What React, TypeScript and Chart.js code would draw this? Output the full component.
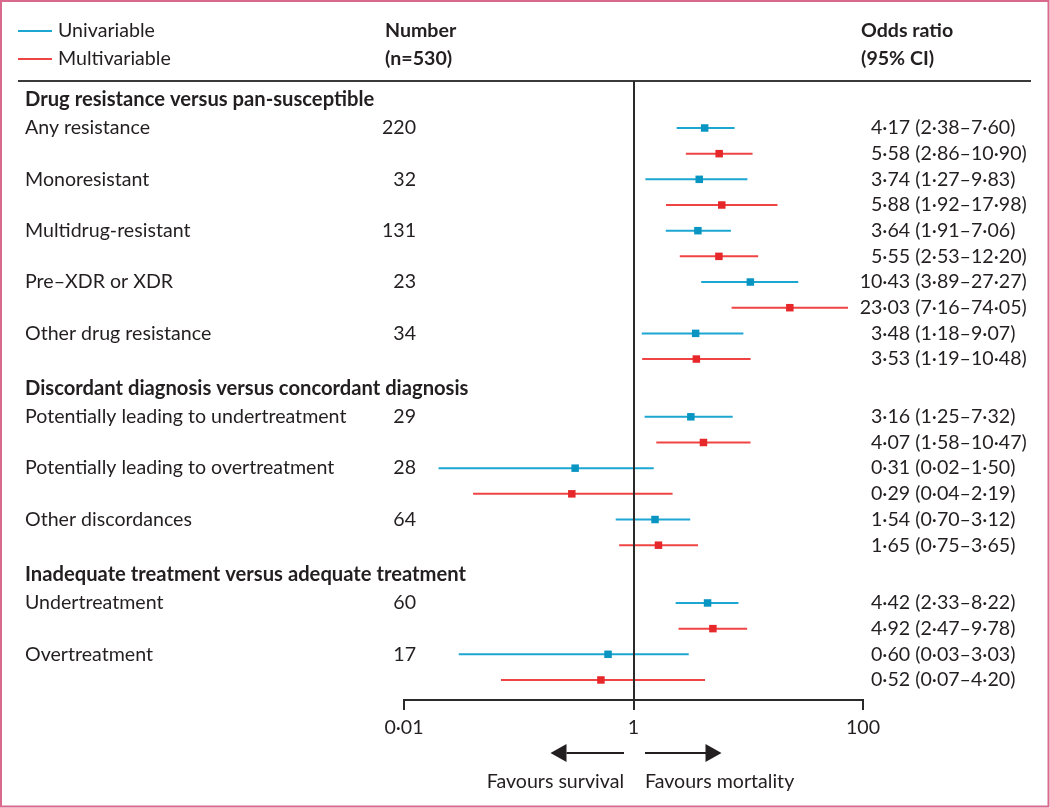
import { useEffect, useRef } from 'react';
import { Chart, registerables } from 'chart.js';

Chart.register(...registerables);

const groupTitles = [
  'Drug resistance versus pan-susceptible',
  'Discordant diagnosis versus concordant diagnosis',
  'Inadequate treatment versus adequate treatment',
];
const rowLabels = [
  'Any resistance',
  'Monoresistant',
  'Multidrug-resistant',
  'Pre–XDR or XDR',
  'Other drug resistance',
  'Potentially leading to undertreatment',
  'Potentially leading to overtreatment',
  'Other discordances',
  'Undertreatment',
  'Overtreatment',
];
const rowGroup = [0, 0, 0, 0, 0, 1, 1, 1, 2, 2];
const numbers = [220, 32, 131, 23, 34, 29, 28, 64, 60, 17];
const uniOR = [4.17, 3.74, 3.64, 10.43, 3.48, 3.16, 0.31, 1.54, 4.42, 0.6];
const uniLo = [2.38, 1.27, 1.91, 3.89, 1.18, 1.25, 0.02, 0.7, 2.33, 0.03];
const uniHi = [7.6, 9.83, 7.06, 27.27, 9.07, 7.32, 1.5, 3.12, 8.22, 3.03];
const multiOR = [5.58, 5.88, 5.55, 23.03, 3.53, 4.07, 0.29, 1.65, 4.92, 0.52];
const multiLo = [2.86, 1.92, 2.53, 7.16, 1.19, 1.58, 0.04, 0.75, 2.47, 0.07];
const multiHi = [10.9, 17.98, 12.2, 74.05, 10.48, 10.47, 2.19, 3.65, 9.78, 4.2];
const xTickValues = [0.01, 1, 100];
const xTickLabels = ['0·01', '1', '100'];
const seriesNames = ['Univariable', 'Multivariable'];

const FONT = 'Lato, "Open Sans", sans-serif';
const TEXT = '#231f20';
const BLUE_LINE = '#1ca6d2';
const BLUE_MARK = '#0995c2';
const RED_LINE = '#f04444';
const RED_MARK = '#e6282a';
const FS = 19.6;
const FSB = 20.2;

const yOf = (i: number, s: number) => 2 * i + s + rowGroup[i] * 1.25;
const fmt = (v: number) => v.toFixed(2).replace('.', '·');

export default function App() {
  const ref = useRef<HTMLCanvasElement>(null);

  useEffect(() => {
    const canvas = ref.current;
    if (!canvas) return;

    const datasets: any[] = [];
    datasets.push({
      type: 'scatter',
      data: uniOR.map((v, i) => ({ x: v, y: yOf(i, 0) })),
      pointStyle: 'rect',
      pointRadius: 5.3,
      backgroundColor: BLUE_MARK,
      borderColor: BLUE_MARK,
      borderWidth: 0,
    });
    datasets.push({
      type: 'scatter',
      data: multiOR.map((v, i) => ({ x: v, y: yOf(i, 1) })),
      pointStyle: 'rect',
      pointRadius: 5.3,
      backgroundColor: RED_MARK,
      borderColor: RED_MARK,
      borderWidth: 0,
    });
    uniOR.forEach((_, i) => {
      datasets.push({
        type: 'scatter',
        showLine: true,
        data: [
          { x: uniLo[i], y: yOf(i, 0) },
          { x: uniHi[i], y: yOf(i, 0) },
        ],
        borderColor: BLUE_LINE,
        borderWidth: 2,
        pointRadius: 0,
      });
      datasets.push({
        type: 'scatter',
        showLine: true,
        data: [
          { x: multiLo[i], y: yOf(i, 1) },
          { x: multiHi[i], y: yOf(i, 1) },
        ],
        borderColor: RED_LINE,
        borderWidth: 2,
        pointRadius: 0,
      });
    });

    const decor = {
      id: 'decor',
      beforeDraw(chart: any) {
        const ctx = chart.ctx;
        ctx.save();
        ctx.fillStyle = '#fff';
        ctx.fillRect(0, 0, chart.width, chart.height);
        ctx.restore();
      },
      afterDraw(chart: any) {
        const ctx = chart.ctx as CanvasRenderingContext2D;
        const xs = chart.scales.x;
        const ys = chart.scales.y;
        const top = chart.chartArea.top;
        const bottom = chart.chartArea.bottom;
        ctx.save();

        // frame
        ctx.strokeStyle = '#d96a8e';
        ctx.lineWidth = 2;
        ctx.strokeRect(1, 1, 1047.5, 805.5);

        // legend
        const legendY = [31, 59];
        const legendCol = [BLUE_LINE, RED_LINE];
        legendY.forEach((y, k) => {
          ctx.strokeStyle = legendCol[k];
          ctx.lineWidth = 2;
          ctx.beginPath();
          ctx.moveTo(18, y);
          ctx.lineTo(52, y);
          ctx.stroke();
          ctx.fillStyle = TEXT;
          ctx.font = `${FS}px ${FONT}`;
          ctx.textAlign = 'left';
          ctx.textBaseline = 'middle';
          ctx.fillText(seriesNames[k], 58, y);
        });

        // column headers
        ctx.font = `bold ${FS}px ${FONT}`;
        ctx.fillStyle = TEXT;
        ctx.textAlign = 'left';
        ctx.textBaseline = 'middle';
        ctx.fillText('Number', 385, 31);
        ctx.fillText('(n=530)', 385, 59);
        ctx.fillText('Odds ratio', 861, 31);
        ctx.fillText('(95% CI)', 861, 59);

        // top rule
        ctx.strokeStyle = '#3a3a3a';
        ctx.lineWidth = 2;
        ctx.beginPath();
        ctx.moveTo(18, top);
        ctx.lineTo(1031, top);
        ctx.stroke();

        // line of no effect
        const x1 = Math.round(xs.getPixelForValue(1)) + 0.5;
        ctx.strokeStyle = '#2a2a2a';
        ctx.lineWidth = 2;
        ctx.beginPath();
        ctx.moveTo(x1 - 0.5, top);
        ctx.lineTo(x1 - 0.5, bottom);
        ctx.stroke();

        // group titles
        ctx.font = `bold ${FSB}px ${FONT}`;
        ctx.fillStyle = TEXT;
        groupTitles.forEach((t, g) => {
          const first = rowGroup.indexOf(g);
          ctx.fillText(t, 25, ys.getPixelForValue(yOf(first, 0) - 1.1));
        });

        // row labels and numbers
        ctx.font = `${FS}px ${FONT}`;
        rowLabels.forEach((t, i) => {
          const y = ys.getPixelForValue(yOf(i, 0));
          ctx.textAlign = 'left';
          ctx.fillText(t, 25, y);
          ctx.textAlign = 'right';
          ctx.fillText(String(numbers[i]), 416, y);
        });

        // odds ratio text
        ctx.textAlign = 'left';
        const dw = ctx.measureText('0').width;
        const drawOR = (or: number, lo: number, hi: number, yv: number) => {
          const s = `${fmt(or)} (${fmt(lo)}–${fmt(hi)})`;
          const intDigits = Math.floor(or).toString().length;
          ctx.fillText(s, 871 - (intDigits - 1) * dw, ys.getPixelForValue(yv));
        };
        uniOR.forEach((v, i) => {
          drawOR(v, uniLo[i], uniHi[i], yOf(i, 0));
          drawOR(multiOR[i], multiLo[i], multiHi[i], yOf(i, 1));
        });

        // arrows
        const ay = 753;
        ctx.strokeStyle = '#231f20';
        ctx.fillStyle = '#231f20';
        ctx.lineWidth = 2;
        ctx.beginPath();
        ctx.moveTo(x1 - 10.5, ay);
        ctx.lineTo(x1 - 68, ay);
        ctx.moveTo(x1 + 10.5, ay);
        ctx.lineTo(x1 + 72, ay);
        ctx.stroke();
        ctx.beginPath();
        ctx.moveTo(x1 - 84, ay);
        ctx.lineTo(x1 - 68, ay - 9);
        ctx.lineTo(x1 - 68, ay + 9);
        ctx.closePath();
        ctx.fill();
        ctx.beginPath();
        ctx.moveTo(x1 + 87, ay);
        ctx.lineTo(x1 + 71, ay - 9);
        ctx.lineTo(x1 + 71, ay + 9);
        ctx.closePath();
        ctx.fill();

        ctx.font = `${FS}px ${FONT}`;
        ctx.fillStyle = TEXT;
        ctx.textBaseline = 'middle';
        ctx.textAlign = 'right';
        ctx.fillText('Favours survival', x1 - 10.5, 782);
        ctx.textAlign = 'left';
        ctx.fillText('Favours mortality', x1 + 10.5, 782);

        ctx.restore();
      },
    };

    const chart = new Chart(canvas, {
      type: 'scatter',
      data: { datasets },
      options: {
        animation: false,
        responsive: false,
        devicePixelRatio: 1,
        layout: { padding: { left: 404, right: 187, top: 81, bottom: 0 } },
        plugins: { legend: { display: false }, tooltip: { enabled: false } },
        scales: {
          x: {
            type: 'logarithmic',
            position: 'bottom',
            min: 0.01,
            max: 100,
            afterBuildTicks: (s: any) => {
              s.ticks = xTickValues.map((v) => ({ value: v }));
            },
            afterFit: (s: any) => {
              s.height = 108;
            },
            ticks: {
              autoSkip: false,
              maxRotation: 0,
              padding: 6,
              color: TEXT,
              font: { family: FONT, size: FS },
              callback: (v: any) => {
                const k = xTickValues.indexOf(Number(v));
                return k >= 0 ? xTickLabels[k] : '';
              },
            },
            grid: {
              drawOnChartArea: false,
              drawTicks: true,
              tickLength: 10,
              color: '#2a2a2a',
              lineWidth: 2,
            },
            border: { display: true, color: '#2a2a2a', width: 2 },
          },
          y: {
            type: 'linear',
            display: false,
            reverse: true,
            min: -1.83,
            max: 22.28,
          },
        },
      } as any,
      plugins: [decor],
    });

    return () => chart.destroy();
  }, []);

  return (
    <div style={{ position: 'absolute', left: 0, top: 0, width: 1050, height: 808 }}>
      <canvas ref={ref} width={1050} height={808} style={{ display: 'block' }} />
    </div>
  );
}
